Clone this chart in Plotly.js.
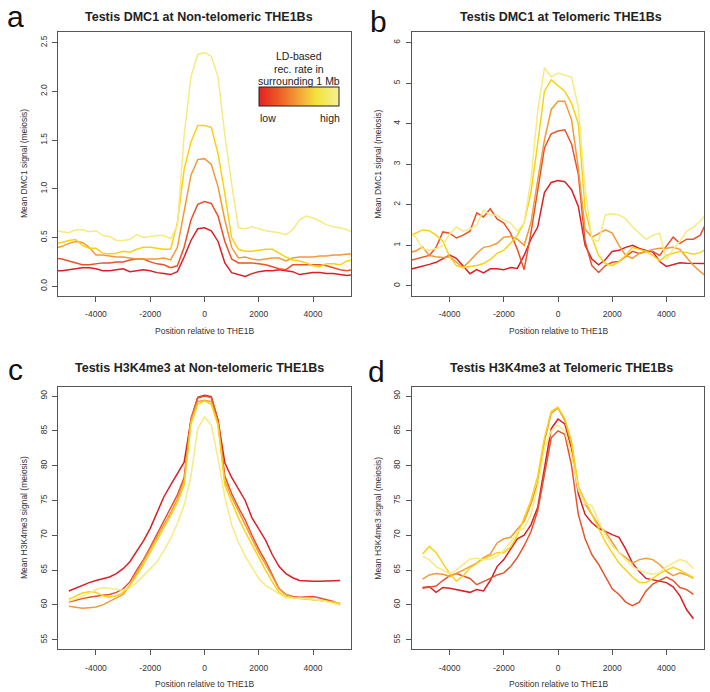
<!DOCTYPE html>
<html>
<head>
<meta charset="utf-8">
<script src="https://cdn.plot.ly/plotly-3.0.1.min.js"></script>
<style>
  body { margin: 0; background: #fff; }
  #chart { width: 710px; height: 692px; }
</style>
</head>
<body>
<div id="chart"></div>
<script>
// positions (bp) relative to THE1B
const posDmc = [-5500,-5250,-5000,-4750,-4500,-4250,-4000,-3750,-3500,-3250,-3000,-2750,-2500,-2250,-2000,-1750,-1500,-1250,-1000,-750,
  -500,-250,0,250,500,750,1000,1250,1500,1750,2000,2250,2500,2750,3000,3250,3500,3750,4000,4250,4500,4750,5000,5250,5500];
const posH3 = [-5000,-4750,-4500,-4250,-4000,-3750,-3500,-3250,-3000,-2750,-2500,-2250,-2000,-1750,-1500,-1250,-1000,-750,-500,-250,
  0,250,500,750,1000,1250,1500,1750,2000,2250,2500,2750,3000,3250,3500,3750,4000,4250,4500,4750,5000];

// rec. rate groups, low -> high
const groupColors = ['#D92027', '#E9532A', '#F19A38', '#F8D315', '#F6EA80'];

// a: DMC1, non-telomeric
const dmcNon1 = [.16,.16,.17,.18,.19,.19,.18,.16,.16,.17, .18,.15,.16,.17,.16,.14,.13,.12,.15,.30, .47,.59,.60,.57,.46,.24,.14,.12,.10,.13, .15,.16,.16,.17,.16,.15,.12,.13,.14,.14, .13,.13,.12,.11,.12];
const dmcNon2 = [.29,.28,.26,.24,.22,.22,.23,.24,.24,.25, .25,.27,.28,.28,.25,.23,.22,.19,.21,.40, .68,.84,.87,.85,.72,.46,.28,.24,.24,.24, .23,.22,.20,.18,.17,.22,.22,.22,.22,.22, .21,.19,.17,.16,.17];
const dmcNon3 = [.39,.41,.44,.46,.45,.40,.32,.32,.31,.30, .30,.29,.28,.28,.28,.28,.29,.27,.40,.79, 1.14,1.30,1.31,1.25,1.02,.68,.40,.29,.30,.28, .27,.28,.29,.29,.26,.29,.30,.30,.30,.31, .31,.32,.32,.33,.33];
const dmcNon4 = [.44,.45,.47,.48,.42,.39,.39,.34,.33,.34, .36,.35,.38,.40,.40,.39,.38,.38,.65,1.20, 1.48,1.65,1.65,1.63,1.36,.95,.50,.38,.36,.36, .37,.38,.38,.34,.30,.27,.26,.24,.21,.20, .23,.23,.22,.26,.27];
const dmcNon5 = [.57,.56,.55,.58,.58,.56,.57,.52,.51,.47, .47,.48,.53,.50,.51,.52,.52,.49,.62,1.55, 2.15,2.38,2.40,2.36,2.15,1.55,1.05,.60,.59,.61, .59,.57,.56,.55,.53,.58,.68,.72,.70,.67, .63,.61,.60,.58,.55];

// b: DMC1, telomeric
const dmcTel1 = [.40,.44,.48,.53,.58,.66,.76,.68,.48,.30, .40,.32,.42,.42,.40,.45,.43,.75,1.15,1.45, 2.30,2.55,2.60,2.57,2.37,1.96,1.00,.66,.52,.65, .85,.88,.95,1.00,.92,.87,.84,.60,.48,.53, .57,.56,.55,.54,.55];
const dmcTel2 = [.62,.66,.70,.75,.95,1.33,1.30,1.18,1.25,1.35, 1.80,1.70,1.90,1.65,1.55,1.30,.90,.40,1.30,2.40, 3.40,3.75,3.82,3.85,3.50,2.75,1.10,.50,.33,.50, .58,.60,.72,.85,.80,.85,.85,.75,.98,1.20, 1.05,1.15,1.15,1.25,1.60];
const dmcTel3 = [.82,.86,.96,.75,.72,.70,.72,.58,.45,.62, .80,.95,.98,1.05,1.20,1.22,1.15,1.00,1.55,2.60, 3.60,4.35,4.55,4.55,4.10,2.90,1.40,1.20,1.28,1.38, 1.30,1.00,.75,.68,.80,.85,.90,.93,.93,.95, .90,.70,.50,.35,.22];
const dmcTel4 = [1.22,1.30,1.38,1.36,1.25,1.10,.72,.50,.45,.48, .50,.55,.65,.80,.88,1.05,1.25,1.55,2.30,3.50, 4.80,5.08,4.95,4.80,4.50,4.00,1.90,1.20,.75,.55, .50,.60,.75,.95,.90,.85,.75,.62,.75,.80, .85,.82,.78,.82,.92];
const dmcTel5 = [1.35,1.20,.92,.88,.92,1.00,1.28,1.45,1.35,1.40, 1.50,1.87,1.75,1.75,1.62,1.55,1.35,1.55,2.60,4.30, 5.38,5.15,5.25,5.20,5.15,4.40,2.40,1.15,1.10,1.75, 1.78,1.75,1.65,1.45,1.30,1.15,1.25,1.30,.65,.90, 1.10,1.35,1.45,1.60,1.80];

// c: H3K4me3, non-telomeric
const h3Non1 = [62.0,62.4,62.9,63.2,63.5,63.7,64.0,64.5,65.2,66.2, 67.7,69.2,71.0,73.3,75.5,77.2,78.8,80.5,86.5,89.8, 90.1, 89.9,86.5,80.4,78.3,76.7,75.0,72.5,70.8,69.3,67.2, 65.5,64.5,63.9,63.5,63.4,63.4,63.4,63.4,63.5,63.5];
const h3Non2 = [60.4,60.7,60.9,61.1,61.3,61.4,61.5,61.8,62.3,63.3, 65.0,66.5,68.3,70.2,72.0,73.8,75.8,78.3,86.8,89.7, 90.0, 89.8,86.5,78.5,76.0,74.0,72.2,70.0,68.0,66.3,64.2, 62.3,61.5,61.2,61.1,61.2,61.2,61.0,60.7,60.5,60.0];
const h3Non3 = [59.8,59.6,59.5,59.6,59.7,60.0,60.5,61.0,61.5,62.8, 64.5,66.2,68.0,69.8,71.5,73.2,75.2,77.8,86.5,89.2, 89.4, 89.2,86.0,77.8,75.5,73.5,71.5,69.5,67.5,65.8,64.0, 62.3,61.5,61.1,61.0,60.9,60.8,60.7,60.6,60.4,60.2];
const h3Non4 = [60.8,61.3,61.7,61.9,61.8,61.3,61.1,61.3,61.8,62.8, 64.2,65.8,67.5,69.3,71.0,72.8,74.7,77.2,86.0,88.8, 89.3, 88.8,85.8,77.2,74.8,72.5,70.5,68.6,66.8,65.0,63.3, 61.8,61.2,61.0,60.9,60.8,60.8,60.7,60.5,60.3,60.2];
const h3Non5 = [60.5,60.8,61.2,61.7,62.2,62.5,62.4,62.2,62.1,62.4, 63.2,64.2,65.2,66.2,67.8,69.5,71.7,74.3,78.5,85.3, 87.0, 85.8,81.0,75.5,71.5,69.0,67.0,65.3,63.8,62.8,62.2, 61.5,61.0,61.0,61.0,60.9,60.8,60.7,60.5,60.2,60.0];

// d: H3K4me3, telomeric
const h3Tel1 = [62.5,62.6,61.8,62.5,62.4,62.2,62.1,61.8,62.2,62.0, 63.5,65.5,66.5,68.0,69.5,70.0,71.5,74.0,79.5,85.3, 86.7, 86.0,82.5,76.0,73.0,71.8,71.0,70.5,70.1,69.7,68.0, 66.0,64.8,63.8,63.6,63.5,63.2,62.6,61.3,59.3,58.0];
const h3Tel2 = [62.4,62.6,62.7,63.5,64.2,64.5,64.2,63.8,62.9,63.3, 63.8,64.3,64.6,65.5,66.8,68.5,70.5,73.5,78.5,84.0, 85.0, 84.5,80.0,73.0,69.5,67.2,65.8,64.0,62.3,61.5,60.4, 59.9,60.4,62.0,63.0,63.5,64.0,63.5,62.5,62.2,61.5];
const h3Tel3 = [63.7,64.3,64.5,64.4,64.1,64.5,65.0,65.5,66.0,66.8, 67.3,68.9,69.5,69.7,70.8,72.0,74.5,77.5,83.5,87.5, 88.3, 86.5,83.0,77.0,74.5,73.0,71.5,70.5,69.0,67.5,66.8, 66.0,66.5,66.7,66.5,65.8,64.8,64.2,64.6,64.3,63.8];
const h3Tel4 = [67.3,68.4,67.5,66.0,64.5,63.4,64.2,65.3,66.0,66.6, 67.0,67.5,67.5,68.3,70.0,72.5,75.0,78.5,84.0,87.8, 88.4, 86.8,83.5,77.0,75.0,73.0,71.0,69.0,67.5,66.0,65.0, 64.0,63.2,63.2,63.8,64.5,65.0,65.4,65.0,64.5,63.9];
const h3Tel5 = [67.0,66.5,65.5,65.0,64.5,65.0,65.8,66.6,66.7,66.5, 66.6,67.0,67.8,69.0,70.5,71.0,73.0,77.0,82.5,85.0, 85.8, 85.0,81.5,76.5,74.5,74.3,72.0,70.0,68.5,67.5,66.5, 65.5,65.0,64.6,64.4,64.6,65.5,66.0,66.5,66.2,65.2];

const xTicks = [-4000, -2000, 0, 2000, 4000];
const xTickText = ['-4000', '-2000', '0', '2000', '4000'];

const W = 710, H = 692;
const FONT = 'Liberation Sans, Arial, Helvetica, sans-serif';

// dom = plot box in px [left, right, top, bottom]; tx/ty = title centre, lx/ly = panel letter centre
const panels = [
  {ax: '', pos: posDmc, series: [dmcNon1, dmcNon2, dmcNon3, dmcNon4, dmcNon5], yr: [-0.10, 2.61],
   yt: [0, 0.5, 1, 1.5, 2, 2.5], fmt: '.1f', dom: [58, 351, 32, 296], tx: 199, ty: 17, lx: 15, ly: 17,
   title: 'Testis DMC1 at Non-telomeric THE1Bs', ytitle: 'Mean DMC1 signal (meiosis)', letter: 'a'},
  {ax: '2', pos: posDmc, series: [dmcTel1, dmcTel2, dmcTel3, dmcTel4, dmcTel5], yr: [-0.25, 6.26],
   yt: [0, 1, 2, 3, 4, 5, 6], fmt: 'd', dom: [411.7, 704.3, 32, 296], tx: 561, ty: 17, lx: 379, ly: 21,
   title: 'Testis DMC1 at Telomeric THE1Bs', ytitle: 'Mean DMC1 signal (meiosis)', letter: 'b'},
  {ax: '3', pos: posH3, series: [h3Non1, h3Non2, h3Non3, h3Non4, h3Non5], yr: [53.62, 91.34],
   yt: [55, 60, 65, 70, 75, 80, 85, 90], fmt: 'd', dom: [58, 351, 386.7, 649.3], tx: 199, ty: 367.5, lx: 15, ly: 369,
   title: 'Testis H3K4me3 at Non-telomeric THE1Bs', ytitle: 'Mean H3K4me3 signal (meiosis)', letter: 'c'},
  {ax: '4', pos: posH3, series: [h3Tel1, h3Tel2, h3Tel3, h3Tel4, h3Tel5], yr: [53.62, 91.34],
   yt: [55, 60, 65, 70, 75, 80, 85, 90], fmt: 'd', dom: [411.7, 704.3, 386.7, 649.3], tx: 561, ty: 367.5, lx: 377, ly: 371,
   title: 'Testis H3K4me3 at Telomeric THE1Bs', ytitle: 'Mean H3K4me3 signal (meiosis)', letter: 'd'}
];

const traces = [];
const layout = {
  width: W, height: H, autosize: false,
  margin: {l: 0, r: 0, t: 0, b: 0},
  paper_bgcolor: '#fff', plot_bgcolor: '#fff',
  showlegend: false,
  font: {family: FONT, color: '#333'},
  annotations: []
};

panels.forEach(p => {
  p.series.forEach((ys, i) => {
    traces.push({
      type: 'scatter', mode: 'lines', x: p.pos, y: ys,
      xaxis: 'x' + p.ax, yaxis: 'y' + p.ax,
      line: {color: groupColors[i], width: 1.5},
      hoverinfo: 'skip'
    });
  });
  const [x0, x1, y0, y1] = p.dom;
  const common = {
    showline: true, mirror: true, linecolor: '#555', linewidth: 1,
    showgrid: false, zeroline: false, ticks: 'outside', ticklen: 5, tickcolor: '#555',
    tickfont: {size: 8.5, color: '#333', family: FONT}, fixedrange: true
  };
  layout['xaxis' + p.ax] = Object.assign({}, common, {
    domain: [x0 / W, x1 / W], anchor: 'y' + p.ax, range: [-5400, 5400],
    tickmode: 'array', tickvals: xTicks, ticktext: xTickText, ticklabelstandoff: 5
  });
  layout['yaxis' + p.ax] = Object.assign({}, common, {
    domain: [1 - y1 / H, 1 - y0 / H], anchor: 'x' + p.ax, range: p.yr,
    tickmode: 'array', tickvals: p.yt, tickformat: p.fmt, tickangle: -90, ticklabelstandoff: 2
  });
  const cx = (x0 + x1) / 2;
  layout.annotations.push(
    {text: '<b>' + p.title + '</b>', xref: 'paper', yref: 'paper', x: p.tx / W, y: 1 - p.ty / H,
     showarrow: false, font: {size: 12.5, color: '#222'}, xanchor: 'center', yanchor: 'middle'},
    {text: 'Position relative to THE1B', xref: 'paper', yref: 'paper', x: cx / W, y: 1 - (y1 + 35) / H,
     showarrow: false, font: {size: 8.5, color: '#333'}, xanchor: 'center', yanchor: 'middle'},
    {text: p.ytitle, xref: 'paper', yref: 'paper', x: (x0 - 34) / W, y: 1 - ((y0 + y1) / 2) / H,
     showarrow: false, textangle: -90, font: {size: 8.5, color: '#333'}, xanchor: 'center', yanchor: 'middle'},
    {text: p.letter, xref: 'paper', yref: 'paper', x: p.lx / W, y: 1 - p.ly / H, borderpad: 0,
     showarrow: false, font: {size: 30, color: '#111'}, xanchor: 'center', yanchor: 'middle'}
  );
});

// colour key for the LD-based recombination rate
traces.push({
  type: 'scatter', mode: 'markers', x: [0], y: [-5], xaxis: 'x', yaxis: 'y',
  hoverinfo: 'skip', showlegend: false,
  marker: {
    color: [0], cmin: 0, cmax: 1, showscale: true, size: 1,
    colorscale: [[0, '#E3201F'], [0.3, '#EE6A2A'], [0.55, '#F4B23A'], [0.72, '#F3E23C'], [1, '#F4F095']],
    colorbar: {
      orientation: 'h', x: 299 / W, xanchor: 'center', y: 1 - 97.5 / H, yanchor: 'middle',
      len: 80, lenmode: 'pixels', thickness: 19, outlinewidth: 1, outlinecolor: '#222',
      showticklabels: false, ticks: '', xpad: 0, ypad: 0
    }
  }
});
[['LD-based', 299, 56], ['rec. rate in', 299, 69], ['surrounding 1 Mb', 299, 81],
 ['low', 268, 118], ['high', 330, 118]].forEach(([t, x, y]) => {
  layout.annotations.push({text: t, xref: 'paper', yref: 'paper', x: x / W, y: 1 - y / H,
    showarrow: false, font: {size: 10.5, color: '#222'}, xanchor: 'center', yanchor: 'middle'});
});

Plotly.newPlot('chart', traces, layout, {staticPlot: true});
</script>
</body>
</html>
